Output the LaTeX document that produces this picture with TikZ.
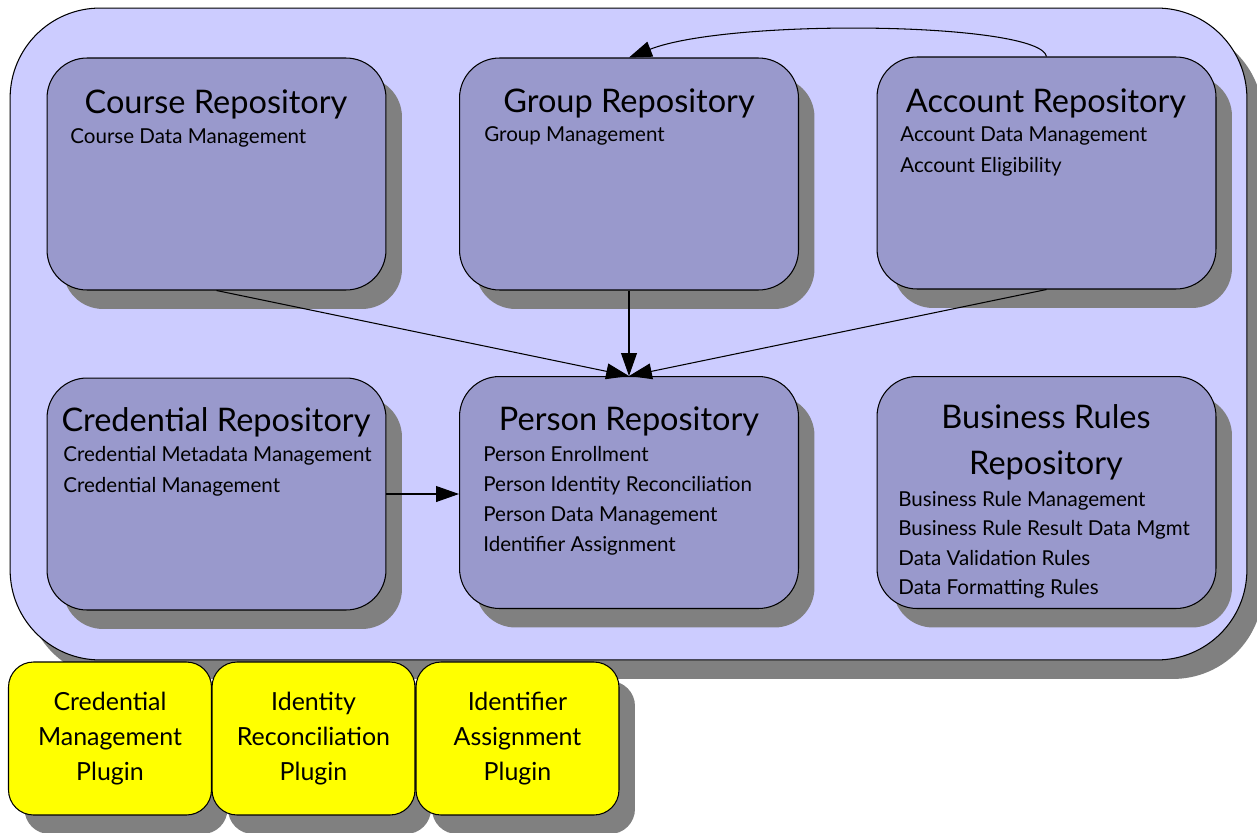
\documentclass[tikz,border=0pt]{standalone}
\usepackage{fontspec}
\setmainfont{Lato}
\usetikzlibrary{arrows.meta,shadows}
\definecolor{outerc}{HTML}{CCCCFF}
\definecolor{boxc}{HTML}{9999CC}
\definecolor{shadc}{HTML}{808080}
\definecolor{plugc}{HTML}{FFFF00}
\begin{document}
\begin{tikzpicture}[x=0.02cm,y=-0.02cm,
  shad/.style={drop shadow={shadow xshift=0.32cm,shadow yshift=-0.38cm,fill=shadc,opacity=1}},
  outerbox/.style={draw=black,line width=0.6pt,fill=outerc,rounded corners=1.8cm,minimum width=24.74cm,minimum height=13.04cm,shad},
  repo/.style={draw=black,line width=0.6pt,fill=boxc,rounded corners=0.8cm,minimum width=6.78cm,minimum height=4.64cm,shad},
  plug/.style={draw=black,line width=0.6pt,fill=plugc,rounded corners=0.5cm,minimum width=4.06cm,minimum height=3.06cm,shad,align=center,font=\fontsize{14.2}{20}\selectfont},
  title/.style={font=\fontsize{18.5}{20}\selectfont,anchor=base,inner sep=0pt},
  item/.style={font=\fontsize{11.7}{14}\selectfont,anchor=base west,inner sep=0pt},
  arr/.style={-{Triangle[length=13pt,width=9pt]},line width=0.6pt}]
\useasboundingbox (0,0) rectangle (1257,832);
\node[outerbox] (outer) at (628.5,334) {};
\node[repo] (course) at (216.5,174) {};
\node[repo] (group) at (629,174) {};
\node[repo] (account) at (1046.5,173) {};
\node[repo] (cred) at (216.5,494) {};
\node[repo] (person) at (629,492.5) {};
\node[repo] (rules) at (1046.5,492.5) {};
% titles
\node[title] (courseT) at (216,113) {Course Repository};
\node[title] (groupT) at (629,112) {Group Repository};
\node[title] (accountT) at (1046,112) {Account Repository};
\node[title] (credT) at (216,431) {Credential Repository};
\node[title] (personT) at (629,430) {Person Repository};
\node[title] (rulesT1) at (1046,428) {Business Rules};
\node[title] (rulesT2) at (1046,474) {Repository};
% items
\node[item] (c1) at (70,143) {Course Data Management};
\node[item] (g1) at (484,141) {Group Management};
\node[item] (a1) at (900,141) {Account Data Management};
\node[item] (a2) at (900,172) {Account Eligibility};
\node[item] (cr1) at (63,461) {Credential Metadata Management};
\node[item] (cr2) at (63,492) {Credential Management};
\node[item] (p1) at (483,461) {Person Enrollment};
\node[item] (p2) at (483,491) {Person Identity Reconciliation};
\node[item] (p3) at (483,521) {Person Data Management};
\node[item] (p4) at (483,551) {Identifier Assignment};
\node[item] (r1) at (898,506) {Business Rule Management};
\node[item] (r2) at (898,535) {Business Rule Result Data Mgmt};
\node[item] (r3) at (898,565) {Data Validation Rules};
\node[item] (r4) at (898,594) {Data Formatting Rules};
% plugins
\node[plug] (pl1) at (110,738.5) {Credential\\Management\\Plugin};
\node[plug] (pl2) at (313.5,738.5) {Identity\\Reconciliation\\Plugin};
\node[plug] (pl3) at (517.5,738.5) {Identifier\\Assignment\\Plugin};
% connectors
\draw[arr] (course.south) -- (person.north);
\draw[arr] (group.south) -- (person.north);
\draw[arr] (account.south) -- (person.north);
\draw[arr] (cred.east) -- (cred.east -| person.west);
\draw[arr] (account.north) .. controls (1040,22) and (730,18) .. (group.north);
\end{tikzpicture}
\end{document}
